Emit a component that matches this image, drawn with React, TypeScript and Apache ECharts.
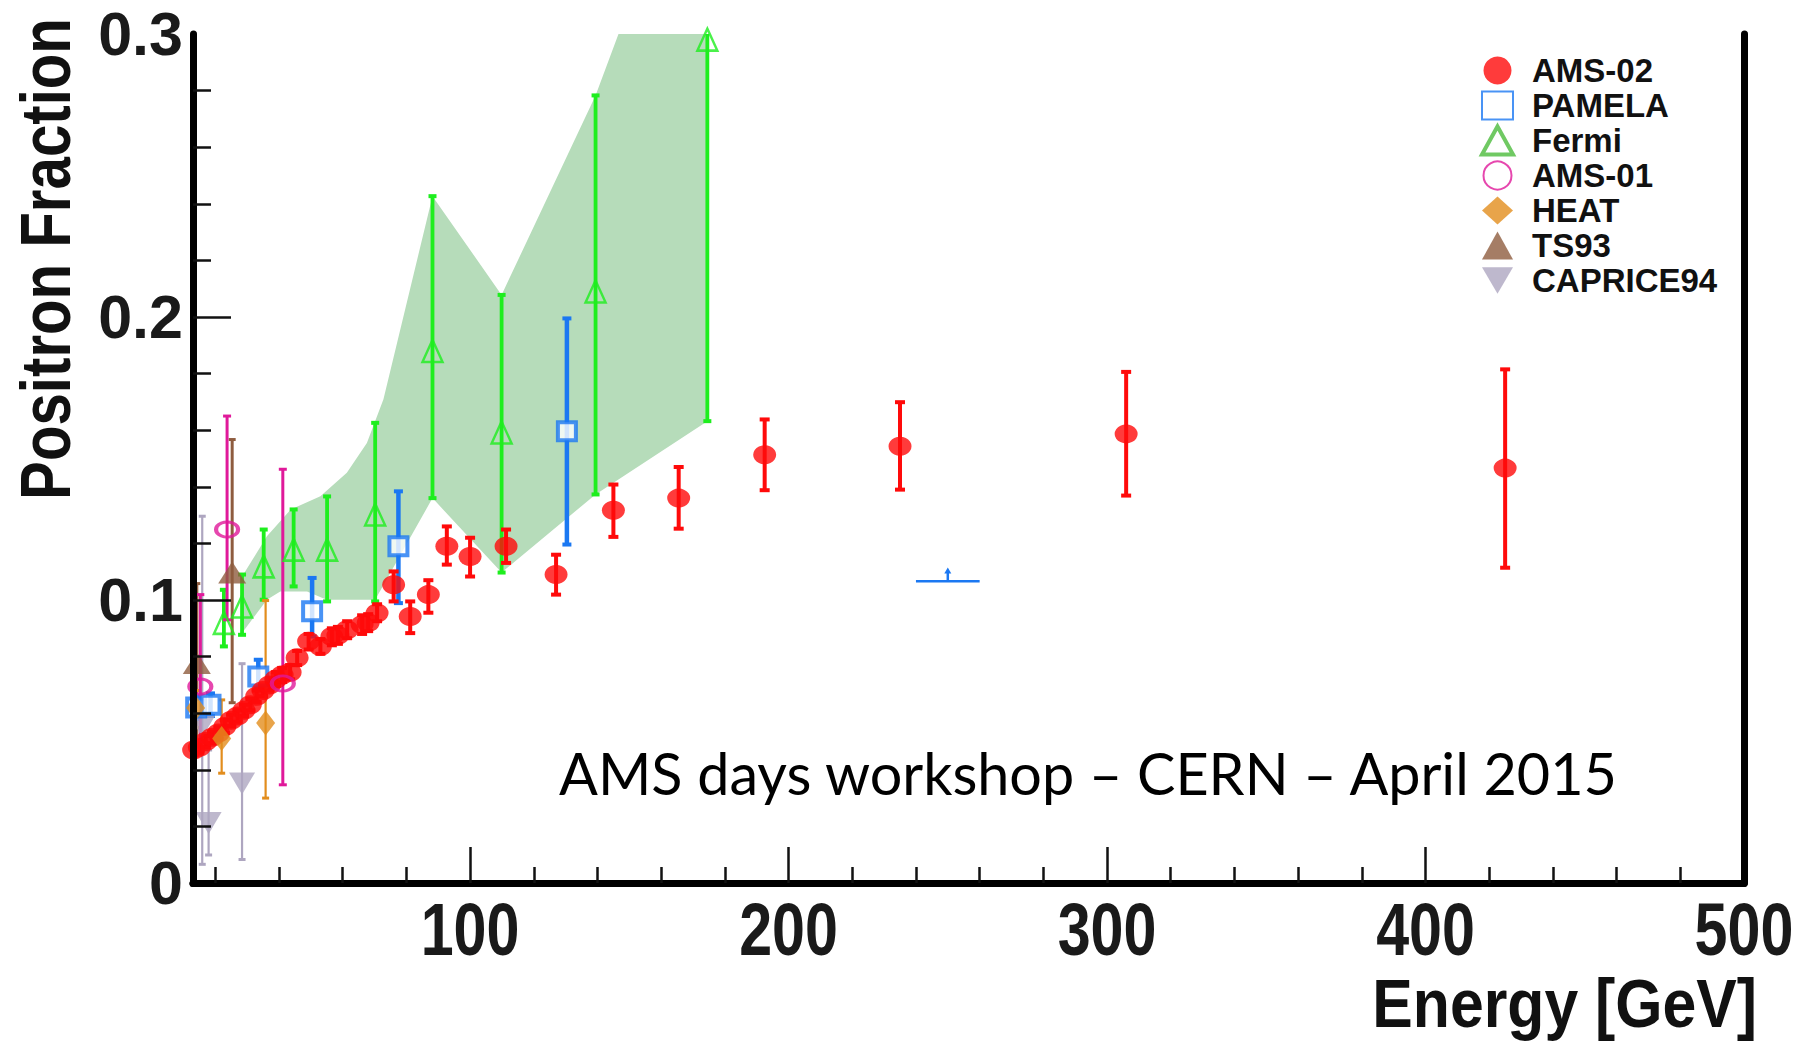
import React, { useEffect, useRef } from "react";
import * as echarts from "echarts";

// ---------- axes ----------
const X_MIN = 13;
const X_MAX = 500;
const Y_MIN = 0;
const Y_MAX = 0.3;
const xLabelValues = [100, 200, 300, 400, 500];
const xMajorTicks = [100, 200, 300, 400];
const xMinorTicks = [20, 40, 60, 80, 120, 140, 160, 180, 220, 240, 260, 280, 320, 340, 360, 380, 420, 440, 460, 480];
const yLabelValues = [0, 0.1, 0.2, 0.3];
const yMajorTicks = [0.1, 0.2];
const yMinorTicks = [0.02, 0.04, 0.06, 0.08, 0.12, 0.14, 0.16, 0.18, 0.22, 0.24, 0.26, 0.28];

// ---------- AMS-02 ----------
const ams02E = [13.2, 15, 17, 19, 21, 23, 25, 27, 29, 31, 33, 35, 37, 39, 41, 43.5, 45.7, 49.3, 53, 56.6, 58.5, 61.4, 66.1, 68, 70.8, 76, 81.2, 86.9, 92.7, 100, 111.3, 127, 145, 165.5, 192.5, 235, 306, 425];
const ams02F = [0.047, 0.048, 0.05, 0.0515, 0.053, 0.0553, 0.0575, 0.059, 0.061, 0.063, 0.066, 0.068, 0.07, 0.072, 0.0735, 0.0745, 0.0796, 0.0854, 0.0836, 0.0871, 0.0875, 0.0895, 0.0913, 0.092, 0.0954, 0.1054, 0.0942, 0.1019, 0.119, 0.1154, 0.119, 0.109, 0.1317, 0.136, 0.1513, 0.1543, 0.1587, 0.1466];
const ams02Lo = [0.045, 0.046, 0.048, 0.0495, 0.051, 0.053, 0.0555, 0.057, 0.059, 0.061, 0.064, 0.066, 0.068, 0.0695, 0.071, 0.072, 0.077, 0.0825, 0.081, 0.084, 0.0845, 0.0865, 0.088, 0.089, 0.0925, 0.0995, 0.0883, 0.0955, 0.1125, 0.1083, 0.1131, 0.1019, 0.1223, 0.1252, 0.1388, 0.139, 0.1369, 0.1114];
const ams02Hi = [0.049, 0.05, 0.052, 0.0535, 0.055, 0.0576, 0.0595, 0.061, 0.063, 0.065, 0.068, 0.07, 0.072, 0.0745, 0.076, 0.077, 0.082, 0.088, 0.0862, 0.09, 0.0905, 0.0925, 0.0946, 0.095, 0.0985, 0.1101, 0.0995, 0.107, 0.126, 0.122, 0.1249, 0.116, 0.1408, 0.147, 0.1638, 0.1699, 0.1806, 0.1815];

// ---------- PAMELA ----------
const pamelaE = [14, 18.5, 33.5, 50.4, 77.5, 130.4];
const pamelaF = [0.062, 0.063, 0.073, 0.096, 0.119, 0.1596];
const pamelaLo = [0.058, 0.059, 0.069, 0.0871, 0.0989, 0.1196];
const pamelaHi = [0.066, 0.067, 0.0789, 0.1078, 0.1384, 0.1995];

// ---------- Fermi ----------
const fermiE = [22.7, 28.4, 35.2, 44.6, 55.1, 70.2, 88.2, 109.9, 139.4, 174.5];
const fermiF = [0.0919, 0.0977, 0.1119, 0.1178, 0.1178, 0.1302, 0.188, 0.1592, 0.209, 0.298];
const fermiLo = [0.0836, 0.0877, 0.1001, 0.1048, 0.0995, 0.0995, 0.136, 0.1097, 0.1373, 0.1632];
const fermiHi = [0.1036, 0.109, 0.1249, 0.132, 0.1366, 0.1626, 0.2427, 0.2078, 0.2783, 0.33];

// Fermi systematic band
const bandUpperE = [28.4, 36.2, 43.7, 53, 61.3, 67.6, 72.8, 88.2, 109.9, 139.4, 146.6, 174.5];
const bandUpperF = [0.1083, 0.1225, 0.132, 0.1367, 0.145, 0.1555, 0.1709, 0.2427, 0.2078, 0.2783, 0.3, 0.3];
const bandLowerE = [174.5, 139.4, 109.9, 88.2, 70.2, 55, 48.8, 40.4, 36.2, 28.4];
const bandLowerF = [0.1632, 0.1373, 0.1097, 0.136, 0.1001, 0.1001, 0.103, 0.103, 0.1001, 0.0883];

// ---------- AMS-01 ----------
const ams01E = [15.3, 23.7, 41.2];
const ams01F = [0.0694, 0.1249, 0.0705];
const ams01Lo = [0.05, 0.093, 0.0347];
const ams01Hi = [0.1019, 0.165, 0.1462];

// ---------- HEAT ----------
const heatE = [13.8, 22, 35.8];
const heatF = [0.0618, 0.0511, 0.0565];
const heatLo = [0.055, 0.0388, 0.03];
const heatHi = [0.068, 0.0647, 0.0998];

// ---------- TS93 ----------
const ts93E = [14.2, 25.3];
const ts93F = [0.0777, 0.1097];
const ts93Lo = [0.0494, 0.0637];
const ts93Hi = [0.1058, 0.1567];

// ---------- CAPRICE94 ----------
const capriceE = [15.9, 17.9, 28.4];
const capriceF = [0.0553, 0.0212, 0.0352];
const capriceLo = [0.0066, 0.0099, 0.0083];
const capriceHi = [0.1296, 0.047, 0.0775];

// ---------- lone limit arrow (blue) ----------
const arrowE = [250];
const arrowF = [0.1066];
const arrowHalfBin = [10];
const arrowTip = [0.1115];

const legendNames = ["AMS-02", "PAMELA", "Fermi", "AMS-01", "HEAT", "TS93", "CAPRICE94"];

const SANS = '"Liberation Sans", Arial, sans-serif';

const C = {
  red: "#ff0a0a",
  blue: "#1b78f2",
  green: "#1eee1e",
  greenLegend: "#4cbb3c",
  magenta: "#e0199a",
  orange: "#e28d1d",
  brown: "#8e5c3f",
  grey: "#aea6c0",
  band: "#b6dcba",
};

function errSeries(name: string, E: number[], lo: number[], hi: number[], color: string, lw: number, capW: number, capH: number) {
  return {
    type: "custom",
    name,
    clip: true,
    silent: true,
    data: E.map((e, i) => [e, lo[i], hi[i]]),
    encode: { x: 0, y: [1, 2] },
    renderItem: (_p: any, api: any) => {
      const a = api.coord([api.value(0), api.value(1)]);
      const b = api.coord([api.value(0), api.value(2)]);
      return {
        type: "group",
        children: [
          { type: "line", shape: { x1: a[0], y1: a[1], x2: b[0], y2: b[1] }, style: { stroke: color, lineWidth: lw } },
          { type: "rect", shape: { x: a[0] - capW / 2, y: a[1] - capH / 2, width: capW, height: capH }, style: { fill: color } },
          { type: "rect", shape: { x: b[0] - capW / 2, y: b[1] - capH / 2, width: capW, height: capH }, style: { fill: color } },
        ],
      };
    },
  };
}

function pts(E: number[], F: number[]) {
  return E.map((e, i) => [e, F[i]]);
}

export default function App() {
  const ref = useRef<HTMLDivElement>(null);
  useEffect(() => {
    if (!ref.current) return;
    const chart = echarts.init(ref.current, undefined, { renderer: "svg" });
    const tickStyle = { color: "#111", width: 2.5 };
    const baseX = { type: "value", min: X_MIN, max: X_MAX, splitLine: { show: false }, z: 10 };
    const baseY = { type: "value", min: Y_MIN, max: Y_MAX, splitLine: { show: false }, z: 10 };
    const option: any = {
      animation: false,
      backgroundColor: "#fff",
      grid: { left: 193, right: 52, top: 34, bottom: 161 },
      xAxis: [
        {
          ...baseX,
          position: "bottom",
          axisLine: { show: true, lineStyle: { color: "#000", width: 7 } },
          axisTick: { show: true, inside: true, length: 36, customValues: xMajorTicks, lineStyle: tickStyle },
          axisLabel: { show: false },
        },
        {
          ...baseX,
          position: "bottom",
          axisLine: { show: false },
          axisTick: { show: true, inside: true, length: 16, customValues: xMinorTicks, lineStyle: tickStyle },
          axisLabel: { show: false },
        },
        {
          ...baseX,
          position: "top",
          axisLine: { show: true, lineStyle: { color: "#000", width: 7 } },
          axisTick: { show: false },
          axisLabel: { show: false },
        },
      ],
      yAxis: [
        {
          ...baseY,
          position: "left",
          axisLine: { show: true, lineStyle: { color: "#000", width: 7 } },
          axisTick: { show: true, inside: true, length: 38, customValues: yMajorTicks, lineStyle: tickStyle },
          axisLabel: {
            show: true,
            customValues: yLabelValues,
            margin: 10,
            fontFamily: SANS,
            fontWeight: "bold",
            fontSize: 61,
            color: "#1a1a1a",
            formatter: (v: number) => (v === 0 ? "0" : v.toFixed(1)),
          },
        },
        {
          ...baseY,
          position: "left",
          axisLine: { show: false },
          axisTick: { show: true, inside: true, length: 18, customValues: yMinorTicks, lineStyle: tickStyle },
          axisLabel: { show: false },
        },
        {
          ...baseY,
          position: "right",
          axisLine: { show: true, lineStyle: { color: "#000", width: 7 } },
          axisTick: { show: false },
          axisLabel: { show: false },
        },
      ],
      legend: {
        orient: "vertical",
        left: 1475,
        top: 49,
        itemWidth: 31,
        itemHeight: 28,
        itemGap: 2,
        symbolKeepAspect: true,
        selectedMode: false,
        textStyle: { fontFamily: SANS, fontWeight: "bold", fontSize: 33, color: "#111", padding: [0, 0, 0, 14] },
        data: legendNames.map((n) => {
          if (n === "Fermi") return { name: n, itemStyle: { borderColor: C.greenLegend, borderWidth: 4 } };
          if (n === "CAPRICE94") return { name: n, icon: "path://M0,0 L20,0 L10,17 Z" };
          return { name: n };
        }),
      },
      graphic: [
        {
          type: "text",
          x: 45,
          y: 259,
          rotation: Math.PI / 2,
          scaleX: 0.82,
          z: 100,
          style: { text: "Positron Fraction", font: `bold 71px ${SANS}`, fill: "#111", align: "center", verticalAlign: "middle" },
        },
        {
          type: "text",
          x: 1757,
          y: 1003,
          scaleX: 0.88,
          z: 100,
          style: { text: "Energy [GeV]", font: `bold 69px ${SANS}`, fill: "#111", align: "right", verticalAlign: "middle" },
        },
        {
          type: "text",
          x: 559,
          y: 772,
          z: 100,
          style: { text: "AMS days workshop \u2013 CERN \u2013 April 2015", font: `57.5px Lato, "Open Sans", sans-serif`, fill: "#000", align: "left", verticalAlign: "middle" },
        },
      ],
      series: [
        {
          type: "custom",
          name: "Fermi band",
          clip: true,
          silent: true,
          data: [[bandUpperE[0], bandUpperF[0]]],
          renderItem: (_p: any, api: any) => {
            const poly = [
              ...bandUpperE.map((e, i) => api.coord([e, bandUpperF[i]])),
              ...bandLowerE.map((e, i) => api.coord([e, bandLowerF[i]])),
            ];
            return { type: "polygon", shape: { points: poly }, style: { fill: C.band } };
          },
        },
        {
          type: "custom",
          name: "limit",
          clip: true,
          silent: true,
          data: arrowE.map((e, i) => [e, arrowF[i], arrowHalfBin[i], arrowTip[i]]),
          renderItem: (_p: any, api: any) => {
            const e = api.value(0), f = api.value(1), hb = api.value(2), t = api.value(3);
            const l = api.coord([e - hb, f]);
            const r = api.coord([e + hb, f]);
            const c = api.coord([e, f]);
            const tip = api.coord([e, t]);
            return {
              type: "group",
              children: [
                { type: "line", shape: { x1: l[0], y1: l[1], x2: r[0], y2: r[1] }, style: { stroke: C.blue, lineWidth: 2.5 } },
                { type: "line", shape: { x1: c[0], y1: c[1], x2: tip[0], y2: tip[1] + 4 }, style: { stroke: C.blue, lineWidth: 2.5 } },
                { type: "polygon", shape: { points: [[tip[0], tip[1]], [tip[0] - 3.5, tip[1] + 6], [tip[0] + 3.5, tip[1] + 6]] }, style: { fill: C.blue } },
              ],
            };
          },
        },
        {
          // x-axis tick labels, placed through the x scale (condensed bold digits)
          type: "custom",
          name: "x labels",
          clip: false,
          silent: true,
          z: 20,
          data: xLabelValues.map((v) => [v, Y_MIN]),
          renderItem: (_p: any, api: any) => {
            const p = api.coord([api.value(0), api.value(1)]);
            return {
              type: "text",
              x: p[0],
              y: p[1] + 46,
              scaleX: 0.8,
              style: { text: String(api.value(0)), font: `bold 74px ${SANS}`, fill: "#1a1a1a", align: "center", verticalAlign: "middle" },
            };
          },
        },
        errSeries("CAPRICE94 err", capriceE, capriceLo, capriceHi, C.grey, 2.2, 7, 3),
        {
          type: "scatter", name: "CAPRICE94", silent: true, data: pts(capriceE, capriceF),
          symbol: "triangle", symbolRotate: 180, symbolSize: [26, 22], itemStyle: { color: C.grey },
        },
        errSeries("TS93 err", ts93E, ts93Lo, ts93Hi, C.brown, 3, 7, 3),
        {
          type: "scatter", name: "TS93", silent: true, data: pts(ts93E, ts93F),
          symbol: "triangle", symbolSize: [28, 22], itemStyle: { color: C.brown },
        },
        errSeries("PAMELA err", pamelaE, pamelaLo, pamelaHi, C.blue, 4.5, 9, 4),
        {
          type: "scatter", name: "PAMELA", silent: true, data: pts(pamelaE, pamelaF),
          symbol: "rect", symbolSize: 18, itemStyle: { color: "#fff", borderColor: C.blue, borderWidth: 4 },
        },
        errSeries("Fermi err", fermiE, fermiLo, fermiHi, C.green, 3.8, 8, 4),
        {
          type: "scatter", name: "Fermi", silent: true, data: pts(fermiE, fermiF),
          symbol: "triangle", symbolSize: [20, 22], itemStyle: { color: "rgba(0,0,0,0)", borderColor: C.green, borderWidth: 2.5 },
        },
        errSeries("AMS-02 err", ams02E, ams02Lo, ams02Hi, C.red, 4, 10, 4),
        {
          type: "scatter", name: "AMS-02", silent: true, data: pts(ams02E, ams02F),
          symbol: "circle", symbolSize: [23, 19], itemStyle: { color: C.red },
        },
        errSeries("HEAT err", heatE, heatLo, heatHi, C.orange, 2.2, 7, 3),
        {
          type: "scatter", name: "HEAT", silent: true, data: pts(heatE, heatF),
          symbol: "diamond", symbolSize: [19, 25], itemStyle: { color: C.orange },
        },
        errSeries("AMS-01 err", ams01E, ams01Lo, ams01Hi, C.magenta, 3, 8, 3),
        {
          type: "scatter", name: "AMS-01", silent: true, data: pts(ams01E, ams01F),
          symbol: "circle", symbolSize: [22, 15], itemStyle: { color: "rgba(0,0,0,0)", borderColor: C.magenta, borderWidth: 3.5 },
        },
      ],
    };
    chart.setOption(option);
    return () => chart.dispose();
  }, []);
  return (
    <div
      ref={ref}
      style={{ position: "fixed", left: 0, top: 0, width: 1796, height: 1044, background: "#fff" }}
    />
  );
}
